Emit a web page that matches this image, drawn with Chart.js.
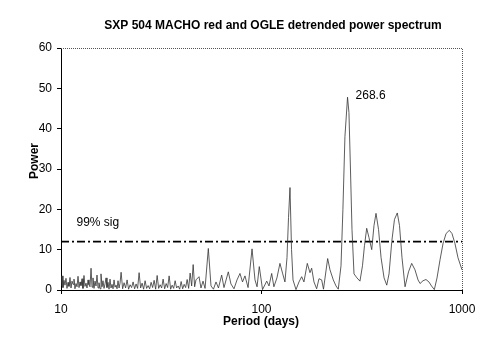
<!DOCTYPE html>
<html>
<head>
<meta charset="utf-8">
<script src="https://cdn.jsdelivr.net/npm/chart.js@4/dist/chart.umd.min.js"></script>
<style>body{margin:0;background:#fff}</style>
</head>
<body>
<canvas id="spectrum" width="491" height="355"></canvas>
<script>
// Periods (days) and detrended power
const periods = [
    10.00, 10.12, 10.23, 10.35, 10.47, 10.59, 10.71, 10.84, 10.96, 11.09,
    11.22, 11.35, 11.48, 11.61, 11.74, 11.88, 12.02, 12.16, 12.30, 12.44,
    12.58, 12.73, 12.87, 13.02, 13.17, 13.33, 13.48, 13.64, 13.79, 13.95,
    14.12, 14.28, 14.44, 14.61, 14.78, 14.95, 15.12, 15.30, 15.47, 15.65,
    15.83, 16.02, 16.20, 16.39, 16.58, 16.77, 16.96, 17.16, 17.36, 17.56,
    17.76, 17.97, 18.18, 18.39, 18.60, 18.82, 19.03, 19.25, 19.48, 19.70,
    19.94, 20.29, 20.64, 21.00, 21.36, 21.73, 22.11, 22.50, 22.89, 23.29,
    23.69, 24.10, 24.52, 24.95, 25.38, 25.82, 26.27, 26.73, 27.20, 27.67,
    28.15, 28.64, 29.14, 29.65, 30.17, 30.69, 31.22, 31.76, 32.31, 32.88,
    33.45, 34.03, 34.62, 35.22, 35.84, 36.46, 37.09, 37.74, 38.40, 39.06,
    39.74, 40.43, 41.14, 41.85, 42.58, 43.32, 44.07, 44.84, 45.62, 46.41,
    47.1, 48.8, 49.9, 51.1, 52.3, 54.3, 56.0, 57.6, 59.3, 61.0,
    63.3, 65.0, 68.3, 70.4, 72.9, 75.5, 78.1, 80.4, 82.7, 85.7,
    89.7, 92.8, 95.0, 97.5, 101.2, 106.2, 109.0, 112.4, 115.3, 119.4,
    123.6, 127.6, 130.9, 134.0, 136.4, 138.7, 141.2, 143.6, 148.6, 153.8,
    158.6, 162.8, 169.2, 174.5, 177.9, 182.7, 188.4, 193.5, 199.6, 203.8,
    213.8, 219.6, 228.1, 235.3, 241.5, 249.2, 254.7, 260.7, 268.6, 273.0,
    277.8, 282.7, 289.3, 299.3, 309.8, 318.9, 326.3, 334.7, 343.6, 354.6,
    364.0, 372.5, 383.5, 394.8, 408.6, 421.4, 432.6, 446.4, 460.5, 475.6,
    487.8, 502.1, 520.0, 541.1, 561.2, 582.8, 603.6, 617.6, 639.2, 661.1,
    684.0, 704.6, 727.8, 750.6, 777.1, 804.2, 832.8, 864.8, 891.3, 922.6,
    955.0, 1000
];
const powers = [
    1.0, 3.5, 0.6, 2.4, 1.2, 2.9, 0.4, 1.9, 0.9, 3.1,
    0.5, 2.2, 1.4, 2.7, 0.3, 1.6, 0.8, 3.4, 0.6, 2.0,
    1.1, 2.8, 0.4, 3.6, 0.9, 1.7, 0.5, 2.5, 1.3, 0.8,
    5.4, 0.7, 3.0, 0.4, 2.2, 1.0, 3.7, 0.5, 1.8, 0.3,
    4.0, 0.8, 2.3, 0.4, 1.5, 3.0, 0.6, 1.9, 0.2, 2.7,
    0.5, 1.4, 0.3, 2.5, 0.7, 1.2, 0.3, 2.3, 0.5, 1.7,
    4.4, 0.3, 1.8, 0.5, 2.5, 0.2, 1.3, 0.6, 2.0, 0.3,
    1.5, 0.4, 4.3, 0.5, 1.7, 0.2, 2.3, 0.4, 1.1, 0.3,
    1.9, 0.6, 2.4, 0.2, 3.6, 0.4, 1.3, 0.5, 2.7, 0.3,
    1.6, 0.6, 3.5, 0.2, 1.2, 0.4, 2.3, 0.5, 1.0, 0.2,
    2.1, 0.3, 1.4, 0.6, 2.6, 0.4, 4.2, 1.0, 6.3, 0.8,
    2.5, 3.3, 0.5, 2.2, 0.4, 10.3, 1.0, 0.2, 2.0, 0.5,
    3.7, 0.6, 4.5, 1.5, 0.3, 2.5, 4.1, 2.0, 3.5, 0.6,
    10.2, 2.5, 0.8, 5.8, 0.1, 2.2, 1.0, 4.1, 0.8, 3.0,
    6.6, 4.0, 2.0, 8.0, 18.0, 25.4, 10.0, 2.5, 0.1, 2.0,
    3.3, 2.0, 6.6, 4.3, 5.4, 2.0, 0.3, 2.8, 2.5, 0.2,
    7.8, 5.0, 2.5, 1.0, 0.2, 6.0, 20.0, 38.0, 47.8, 44.0,
    30.0, 15.0, 4.0, 3.0, 2.2, 6.0, 11.0, 15.3, 13.0, 10.0,
    16.0, 19.0, 15.0, 8.0, 3.0, 1.2, 4.0, 12.0, 17.5, 19.1,
    16.0, 8.0, 0.8, 4.5, 6.6, 5.0, 2.5, 1.6, 2.3, 2.6,
    2.0, 1.0, 0.1, 3.0, 7.5, 11.5, 14.0, 14.8, 14.0, 11.5,
    8.0, 5.0
];
const sigPeriods = [10, 1000];
const sigLevels = [12, 12];
const xTicks = [10, 100, 1000];

const FONT = "'Liberation Sans', Arial, sans-serif";
Chart.defaults.font.family = FONT;
Chart.defaults.font.size = 12;
Chart.defaults.color = '#000';

// extra text + dotted frame
const decor = {
    id: 'decor',
    afterDraw(chart) {
        const ctx = chart.ctx;
        const a = chart.chartArea;
        const xs = chart.scales.x, ys = chart.scales.y;
        ctx.save();
        ctx.strokeStyle = '#555';
        ctx.lineWidth = 1;
        ctx.setLineDash([1, 1]);
        ctx.beginPath();
        ctx.moveTo(a.left, a.top + 0.5);
        ctx.lineTo(a.right + 0.5, a.top + 0.5);
        ctx.lineTo(a.right + 0.5, a.bottom);
        ctx.stroke();
        ctx.setLineDash([]);

        ctx.fillStyle = '#000';
        ctx.textBaseline = 'middle';
        ctx.font = 'bold 12px ' + FONT;
        ctx.textAlign = 'center';
        ctx.fillText('SXP 504 MACHO red and OGLE detrended power spectrum', 273, 26);
        ctx.fillText('Period (days)', 261, 322);
        ctx.save();
        ctx.translate(35, 161);
        ctx.rotate(-Math.PI / 2);
        ctx.fillText('Power', 0, 0);
        ctx.restore();

        ctx.font = '12px ' + FONT;
        ctx.textAlign = 'left';
        ctx.fillText('268.6', xs.getPixelForValue(268.6) + 8, ys.getPixelForValue(48.2));
        ctx.fillText('99% sig', xs.getPixelForValue(11.95), ys.getPixelForValue(16.6));
        ctx.restore();
    }
};

new Chart(document.getElementById('spectrum'), {
    type: 'line',
    data: {
        datasets: [{
            data: periods.map((p, i) => ({x: p, y: powers[i]})),
            borderColor: '#333',
            borderWidth: 0.8,
            pointRadius: 0,
            tension: 0
        }, {
            data: sigPeriods.map((p, i) => ({x: p, y: sigLevels[i]})),
            borderColor: '#000',
            borderWidth: 1.6,
            borderDash: [8, 3, 2, 3],
            pointRadius: 0
        }]
    },
    options: {
        responsive: false,
        animation: false,
        devicePixelRatio: 1,
        layout: {padding: {top: 48, right: 29, left: 0, bottom: 0}},
        plugins: {legend: {display: false}, tooltip: {enabled: false}},
        scales: {
            x: {
                type: 'logarithmic',
                min: 10,
                max: 1000,
                afterBuildTicks: s => { s.ticks = xTicks.map(v => ({value: v})); },
                afterFit: s => { s.height = 65; },
                ticks: {
                    callback: v => String(v),
                    maxRotation: 0,
                    padding: 8
                },
                grid: {drawOnChartArea: false, tickLength: 4, color: '#000'},
                border: {color: '#000', dash: [1, 1]}
            },
            y: {
                min: 0,
                max: 60,
                afterFit: s => { s.width = 61; },
                ticks: {stepSize: 10, padding: 5},
                grid: {drawOnChartArea: false, tickLength: 4, color: '#000'},
                border: {color: '#000', dash: [1, 1]}
            }
        }
    },
    plugins: [decor]
});
</script>
</body>
</html>
